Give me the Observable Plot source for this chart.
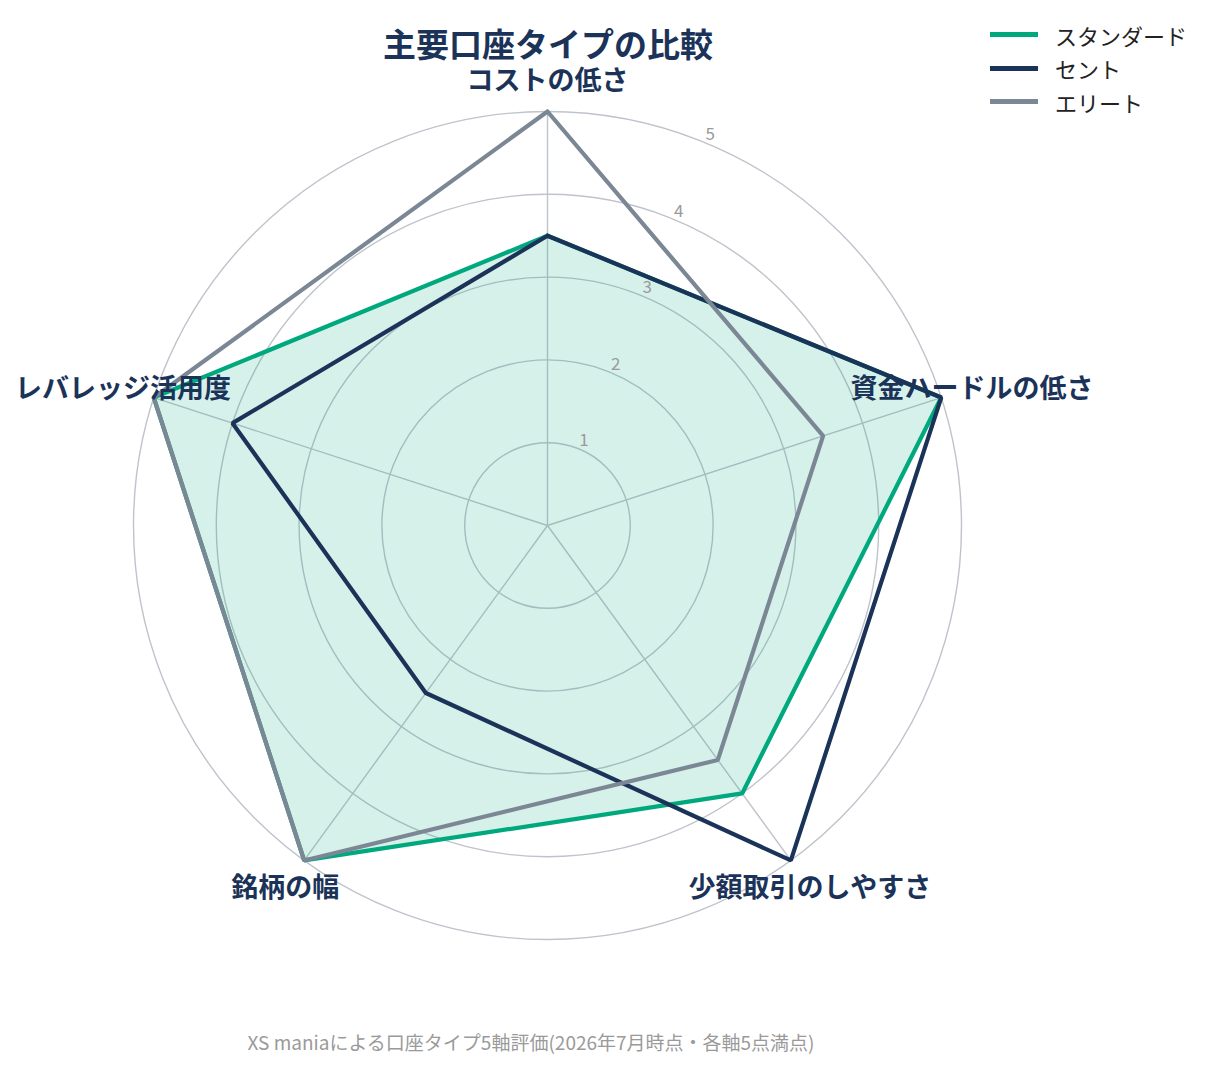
<!DOCTYPE html>
<html><head><meta charset="utf-8">
<script src="https://cdn.jsdelivr.net/npm/d3@7"></script>
<script src="https://cdn.jsdelivr.net/npm/@observablehq/plot@0.6"></script>
<style>
body{margin:0;background:#fff;font-family:"Noto Sans CJK JP","Noto Sans",sans-serif;}
#wrap{position:relative;width:1215px;height:1069px;overflow:hidden;}
#title{position:absolute;left:0;width:1096px;top:29px;text-align:center;font-size:33px;font-weight:700;color:#1b3358;line-height:28px;}
#legend{position:absolute;left:990px;top:18px;font-size:22px;color:#222;}
.lg{display:flex;align-items:center;height:33.5px;}
.lg span.sw{display:inline-block;width:48px;height:5px;margin-right:17px;}
#caption{position:absolute;left:0;width:1062px;top:1028px;text-align:center;font-size:19px;color:#9a9a9a;line-height:28px;}
</style></head>
<body><div id="wrap"><div id="chart"></div><div id="title"></div><div id="legend"></div><div id="caption"></div></div>
<script>
const axes = ["コストの低さ","資金ハードルの低さ","少額取引のしやすさ","銘柄の幅","レバレッジ活用度"];
const seriesNames = ["スタンダード","セント","エリート"];
const standard = [3.5, 5, 4, 5, 5];
const cent = [3.5, 5, 5, 2.5, 4];
const elite = [5, 3.5, 3.5, 5, 5];
const tickValues = [1, 2, 3, 4, 5];
const colors = ["#00a87e", "#1b3358", "#7b8794"];
const titleText = "主要口座タイプの比較";
const captionText = "XS maniaによる口座タイプ5軸評価(2026年7月時点・各軸5点満点)";

const W = 1215, H = 1069, cx = 547, cy = 525, unit = 82.8;
const ang = i => i * 2 * Math.PI / axes.length;
const px = (r, i) => r * Math.sin(ang(i));
const py = (r, i) => r * Math.cos(ang(i));

const seriesVals = [standard, cent, elite];
const polys = seriesVals.map((vals, s) =>
  [...vals, vals[0]].map((v, k) => ({name: seriesNames[s], x: px(v, k % axes.length), y: py(v, k % axes.length)})));

const maxR = d3.max(tickValues);
const tickAng = 22.4 * Math.PI / 180;

const plot = Plot.plot({
  width: W, height: H,
  margin: 0,
  x: {domain: [-cx / unit, (W - cx) / unit], range: [0, W], axis: null},
  y: {domain: [-(H - cy) / unit, cy / unit], range: [H, 0], axis: null},
  r: {type: "linear", domain: [0, maxR], range: [0, maxR * unit]},
  style: {fontFamily: '"Noto Sans CJK JP", "Noto Sans", sans-serif'},
  marks: [
    Plot.dot(tickValues, {x: () => 0, y: () => 0, r: d => d, fill: "none", stroke: "#bfc3cb", strokeWidth: 1.4}),
    Plot.link(axes, {x1: () => 0, y1: () => 0, x2: (d, i) => px(maxR, i), y2: (d, i) => py(maxR, i), stroke: "#bfc3cb", strokeWidth: 1.4}),
    Plot.line(polys[0], {x: "x", y: "y", fill: colors[0], fillOpacity: 0.16, stroke: "none"}),
    Plot.line(polys[0], {x: "x", y: "y", stroke: colors[0], strokeWidth: 4.2, strokeLinejoin: "miter"}),
    Plot.line(polys[1], {x: "x", y: "y", stroke: colors[1], strokeWidth: 4.2, strokeLinejoin: "miter"}),
    Plot.line(polys[2], {x: "x", y: "y", stroke: colors[2], strokeWidth: 4.2, strokeLinejoin: "miter"}),
    Plot.text(tickValues, {x: d => d * Math.sin(tickAng), y: d => d * Math.cos(tickAng), text: d => String(d), dx: 5, dy: -8, fill: "#9a9a9a", fontSize: 17}),
    Plot.text(axes, {x: (d, i) => px(maxR * 1.078, i), y: (d, i) => py(maxR * 1.078, i), text: d => d, dy: 2, fill: "#1b3358", fontSize: 27, fontWeight: 700, textAnchor: "middle"})
  ]
});
document.getElementById("chart").appendChild(plot);
document.getElementById("title").textContent = titleText;
document.getElementById("caption").textContent = captionText;
const lg = document.getElementById("legend");
seriesNames.forEach((n, i) => {
  const row = document.createElement("div");
  row.className = "lg";
  row.innerHTML = `<span class="sw" style="background:${colors[i]}"></span><span>${n}</span>`;
  lg.appendChild(row);
});
</script>
</body></html>
